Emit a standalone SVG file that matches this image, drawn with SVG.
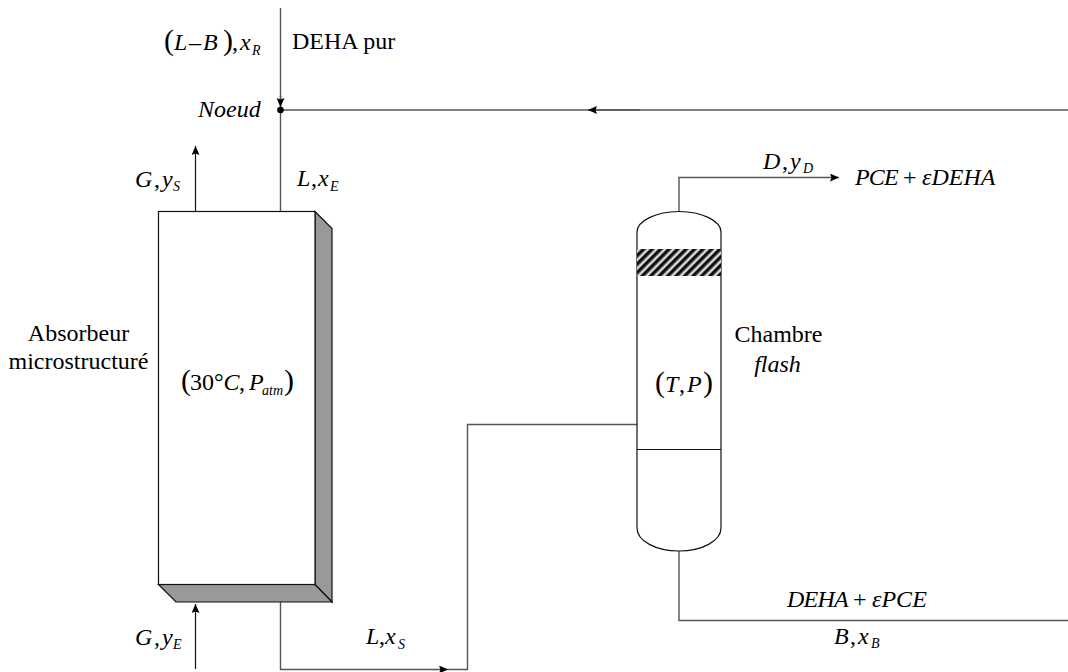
<svg xmlns="http://www.w3.org/2000/svg" width="1068" height="672" viewBox="0 0 1068 672">
<style>
.t{font-family:"Liberation Serif","Times New Roman",serif;font-size:24px;fill:#000}
.i{font-style:italic}
.n{letter-spacing:-0.8px}
.s{font-size:14px;font-style:italic}
.p{font-size:30px}
.l{fill:none;stroke:#555;stroke-width:1.4}
.k{fill:none;stroke:#111;stroke-width:1.2}
.f{fill:#999;stroke:#111;stroke-width:1.2}
</style>
<defs>
<marker id="a" markerWidth="10" markerHeight="8" refX="9" refY="4" orient="auto" markerUnits="userSpaceOnUse"><path d="M0 0L9 4L0 8L1.500 4Z" fill="#000"/></marker>
<linearGradient id="g"><stop offset="0" stop-color="#000"/><stop offset="0.35" stop-color="#111"/><stop offset="0.5" stop-color="#666"/><stop offset="0.7" stop-color="#fff"/><stop offset="0.85" stop-color="#eee"/><stop offset="1" stop-color="#000"/></linearGradient>
<pattern id="h" width="6" height="6" patternUnits="userSpaceOnUse" patternTransform="rotate(45)"><rect width="6" height="6" fill="url(#g)"/></pattern>
</defs>
<g id="connectors">
<path class="l" d="M280.500 8V211"/>
<path class="l" d="M280 110H1068"/>
<path class="l" d="M280.500 96V107" marker-end="url(#a)"/>
<path class="l" d="M640 110H588" marker-end="url(#a)"/>
<path class="k" d="M195.500 211V146" marker-end="url(#a)"/>
<path class="k" d="M195.500 669V604" marker-end="url(#a)"/>
<path class="l" d="M280.500 602V669.500H448" marker-end="url(#a)"/>
<path class="l" d="M448 669.500H467.500V424.500H637"/>
<path class="l" d="M679 212V177.500H839" marker-end="url(#a)"/>
<path class="l" d="M679 551V620.500H1068"/>
<circle cx="280.500" cy="110" r="3.300" fill="#000"/>
</g>
<g id="absorbeur">
<path class="f" d="M315 211.500L332 228.500V602L315 584.500Z"/>
<path class="f" d="M158.500 584.500L176 602H332L315 584.500Z"/>
<rect x="158.500" y="211.500" width="156.500" height="373" fill="#fff" stroke="#111" stroke-width="1.2"/>
<text class="t p" x="181" y="390">(</text>
<text class="t" y="390"><tspan x="190">30°</tspan><tspan class="i">C</tspan><tspan x="239">,</tspan><tspan class="i" x="249">P</tspan><tspan class="s" x="262" dy="5">atm</tspan></text>
<text class="t p" x="284" y="390">)</text>
</g>
<g id="flash">
<path d="M637 232C637 221 656 211.500 679 211.500C702 211.500 721 221 721 232V528C721 541 702 551 679 551C656 551 637 541 637 528Z" fill="#fff" stroke="#111" stroke-width="1.200"/>
<rect x="637" y="249" width="84" height="27" fill="url(#h)"/>
<path class="k" d="M637 449.500H721"/>
<text class="t p" x="655" y="392">(</text>
<text class="t" y="392"><tspan class="i" x="665">T</tspan><tspan x="679">,</tspan><tspan class="i" x="687">P</tspan></text>
<text class="t p" x="703" y="392">)</text>
</g>
<g id="labels">
<text class="t p" x="164" y="50">(</text>
<text class="t" y="50"><tspan class="i" x="174">L</tspan><tspan x="189">–</tspan><tspan class="i" x="203">B</tspan></text>
<text class="t p" x="223" y="50">)</text>
<text class="t" y="50"><tspan x="232">,</tspan><tspan class="i" x="240">x</tspan><tspan class="s" x="252" dy="5">R</tspan></text>
<text class="t" x="292" y="49">DEHA pur</text>
<text class="t i" x="198" y="117">Noeud</text>
<text class="t" y="187"><tspan class="i" x="135">G</tspan><tspan x="154">,</tspan><tspan class="i" x="162">y</tspan><tspan class="s" x="173" dy="4">S</tspan></text>
<text class="t" y="186"><tspan class="i" x="297">L</tspan><tspan x="311">,</tspan><tspan class="i" x="318">x</tspan><tspan class="s" x="330" dy="5">E</tspan></text>
<text class="t" y="645"><tspan class="i" x="135">G</tspan><tspan x="154">,</tspan><tspan class="i" x="162">y</tspan><tspan class="s" x="173" dy="4">E</tspan></text>
<text class="t" y="644"><tspan class="i" x="366">L</tspan><tspan x="379">,</tspan><tspan class="i" x="385">x</tspan><tspan class="s" x="398" dy="5">S</tspan></text>
<text class="t" x="78.500" y="341" text-anchor="middle">Absorbeur</text>
<text class="t" x="78.500" y="369" text-anchor="middle">microstructuré</text>
<text class="t" x="778.500" y="342" text-anchor="middle">Chambre</text>
<text class="t i" x="777.500" y="372" text-anchor="middle">flash</text>
<text class="t" y="169"><tspan class="i" x="763">D</tspan><tspan x="782">,</tspan><tspan class="i" x="790">y</tspan><tspan class="s" x="803" dy="4">D</tspan></text>
<text class="t" y="185"><tspan class="i n" x="855">PCE</tspan><tspan x="903">+</tspan><tspan class="i" x="922">εDEHA</tspan></text>
<text class="t" y="607"><tspan class="i n" x="787">DEHA</tspan><tspan x="853">+</tspan><tspan class="i" x="872">εPCE</tspan></text>
<text class="t" y="644"><tspan class="i" x="834">B</tspan><tspan x="850">,</tspan><tspan class="i" x="858">x</tspan><tspan class="s" x="871" dy="4">B</tspan></text>
</g>
</svg>
